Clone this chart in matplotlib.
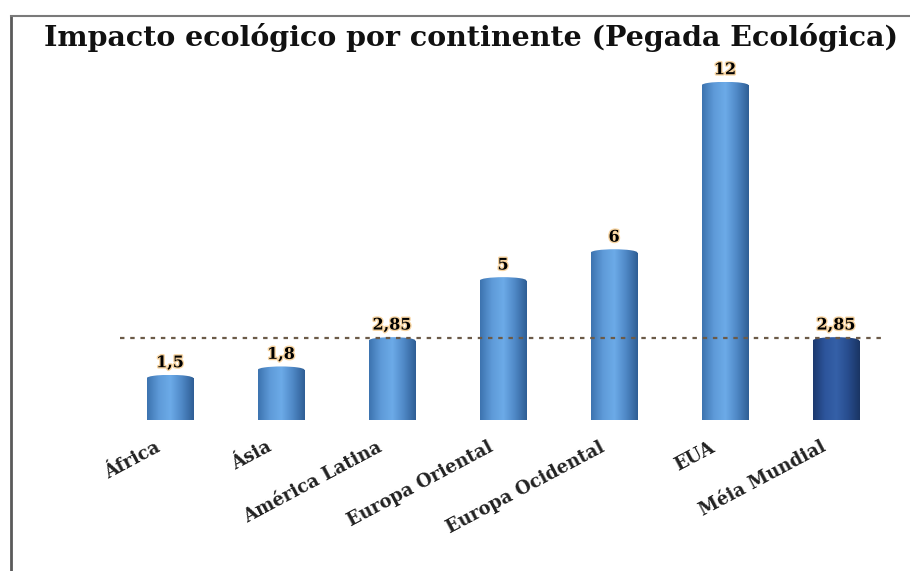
import numpy as np
import matplotlib.pyplot as plt
from matplotlib.colors import LinearSegmentedColormap
from matplotlib.patches import Ellipse
from matplotlib.lines import Line2D
import matplotlib.patheffects as pe
import matplotlib.transforms as mtransforms

categorias = ['África', 'Ásia', 'América Latina', 'Europa Oriental',
              'Europa Ocidental', 'EUA', 'Méia Mundial']
valores = [1.5, 1.8, 2.85, 5, 6, 12, 2.85]
rotulos = ['1,5', '1,8', '2,85', '5', '6', '12', '2,85']
media = 2.85

plt.rcParams['font.family'] = ['DejaVu Serif']

fig = plt.figure(figsize=(9.1, 5.71), dpi=100)
ax = fig.add_axes([0.132, 0.2644, 0.8405, 0.6353])

# gradientes tipo cilindro
azul = LinearSegmentedColormap.from_list('azul', ['#3d74b0', '#5e9ad8', '#6cabe8', '#4f88c6', '#2f5f96'])
escuro = LinearSegmentedColormap.from_list('escuro', ['#1d3a70', '#2d559c', '#3560a8', '#284d8e', '#1a3564'])
grad = np.linspace(0, 1, 64).reshape(1, -1)

x = np.arange(len(categorias))
larg = 0.42
barras = ax.bar(x, valores, width=larg, color='none', edgecolor='none')
for i, b in enumerate(barras):
    cmap = escuro if i == len(categorias) - 1 else azul
    x0 = b.get_x()
    x1 = x0 + b.get_width()
    h = b.get_height()
    im = ax.imshow(grad, extent=[x0, x1, 0, h], aspect='auto', cmap=cmap, zorder=2)
    im.set_clip_path(b)
    topo = ax.imshow(grad, extent=[x0, x1, h - 0.12, h + 0.12], aspect='auto', cmap=cmap, zorder=3)
    el = Ellipse((x[i], h), larg, 0.24, transform=ax.transData, facecolor='none', edgecolor='none')
    ax.add_patch(el)
    topo.set_clip_path(el)
    ax.text(x[i], h + 0.25, rotulos[i], ha='center', va='bottom', fontsize=11.5,
            fontweight='bold', color='black', zorder=5,
            path_effects=[pe.withStroke(linewidth=2, foreground='#f6d3a0')])

ax.axhline(media + 0.1, color='#6b5a48', lw=1.6, dashes=(2, 2.6), zorder=4)

ax.set_xlim(-0.45, 6.44)
ax.set_ylim(0, 13)
for s in ax.spines.values():
    s.set_visible(False)
ax.set_xticks([])
ax.set_yticks([])

off = mtransforms.offset_copy(ax.transData, fig=fig, x=-11, y=-13, units='points')
for i, c in enumerate(categorias):
    ax.text(x[i], 0, c, transform=off, rotation=28, rotation_mode='anchor',
            ha='right', va='top', fontsize=13, fontweight='bold', color='#222222')

fig.text(0.518, 0.935, 'Impacto ecológico por continente (Pegada Ecológica)',
         ha='center', va='center', fontsize=20.5, fontweight='bold', color='#111111')

fig.add_artist(Line2D([11 / 910, 11 / 910], [0, 555 / 571], color='#5a5a5a', lw=2))
fig.add_artist(Line2D([11 / 910, 1], [555 / 571, 555 / 571], color='#7a7a7a', lw=1.5))

fig.savefig('out.png', dpi=100)
